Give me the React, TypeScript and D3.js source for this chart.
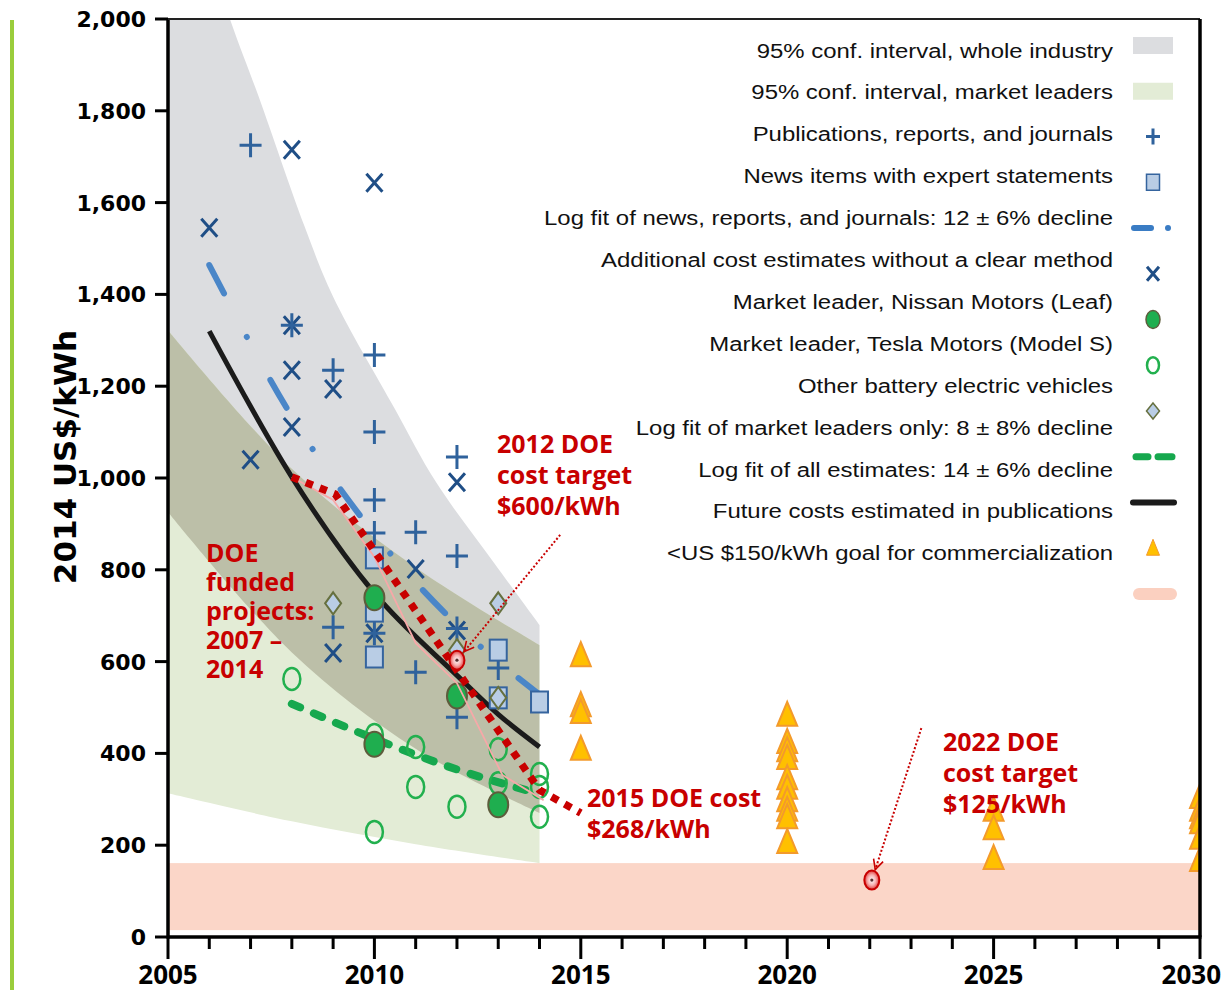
import { useRef, useEffect } from 'react';
import * as d3 from 'd3';

// ── data (year, US$/kWh) ────────────────────────────────────────────────────
const GRAY_UPPER = [[2005, 2420], [2006.5, 2000], [2007.2, 1830], [2008.3, 1550], [2009, 1395], [2010.5, 1150], [2011.5, 990], [2012.9, 815], [2014, 680]];
const GRAY_LOWER = [[2005, 926], [2008, 620], [2011, 410], [2014, 270]];
const GREEN_UPPER = [[2005, 1322], [2008, 1020], [2011, 805], [2014, 636]];
const GREEN_LOWER = [[2005, 313], [2008, 252], [2011, 202], [2014, 161]];
const GOAL_BAND = [15, 161];

const PUBLICATIONS = [[2007, 1725], [2008, 1333], [2009, 1235], [2009, 675], [2010, 1268], [2010, 1100], [2010, 952], [2010, 880], [2010, 662],
  [2011, 882], [2011, 577], [2012, 1046], [2012, 830], [2012, 672], [2012, 479], [2013, 586]];
const NEWS = [[2010, 826], [2010, 710], [2010, 610], [2013, 625], [2013, 521], [2014, 512]];
const ADDITIONAL = [[2006, 1545], [2008, 1715], [2010, 1643], [2007, 1040], [2008, 1333], [2008, 1235], [2008, 1111], [2009, 1194],
  [2009, 619], [2010, 662], [2011, 802], [2012, 991], [2012, 668]];
const NISSAN = [[2010, 739], [2010, 420], [2012, 525], [2013, 288]];
const TESLA = [[2008, 562], [2010, 440], [2010, 229], [2011, 414], [2011, 327], [2012, 284], [2013, 409], [2013, 335], [2014, 355], [2014, 327], [2014, 262]];
const OTHER_BEV = [[2009, 727], [2012, 625], [2013, 727], [2013, 521]];
const FUTURE = [
  [2015, 614], [2015, 505], [2015, 490], [2015, 410],
  [2020, 484], [2020, 425], [2020, 407], [2020, 390], [2020, 346], [2020, 325], [2020, 298], [2020, 277], [2020, 261], [2020, 207],
  [2025, 277], [2025, 237], [2025, 172],
  [2030, 305], [2030, 277], [2030, 261], [2030, 250], [2030, 216], [2030, 168],
];

const FIT_NEWS = [[2006, 1464], [2008, 1134], [2010, 878], [2012, 680], [2014, 528]];
const FIT_LEADERS = [[2008, 508], [2010, 432], [2012, 365], [2014, 312]];
const FIT_ALL = [[2006, 1320], [2008, 1002], [2010, 749], [2012, 570], [2013, 485], [2014, 414]];
const DOE_DOTTED = [[2008, 1002], [2009.05, 965], [2014, 320], [2015, 270]];
const DOE_THIN = [[2008, 1002], [2009, 952], [2010, 828], [2011, 640], [2012, 553], [2013.1, 353], [2014.1, 298]];
const DOE_TARGETS = [[2012, 603], [2022.05, 124]];
const ARROW_STARTS = [[2014.5, 876], [2023.25, 455]];

const Y_TICKS = d3.range(0, 2001, 200);
const X_MINOR = d3.range(2005, 2031, 1);
const X_LABELS = [2005, 2010, 2015, 2020, 2025, 2030];

const LEGEND = [
  '95% conf. interval, whole industry',
  '95% conf. interval, market leaders',
  'Publications, reports, and journals',
  'News items with expert statements',
  'Log fit of news, reports, and journals: 12 \u00b1 6% decline',
  'Additional cost estimates without a clear method',
  'Market leader, Nissan Motors (Leaf)',
  'Market leader, Tesla Motors (Model S)',
  'Other battery electric vehicles',
  'Log fit of market leaders only: 8 \u00b1 8% decline',
  'Log fit of all estimates: 14 \u00b1 6% decline',
  'Future costs estimated in publications',
  '<US $150/kWh goal for commercialization',
];

const RED = '#c80000';
const BOLD = '"Open Sans", sans-serif';

export default function App() {
  const ref = useRef(null);

  useEffect(() => {
    const svg = d3.select(ref.current);
    svg.selectAll('*').remove();

    const x = d3.scaleLinear().domain([2005, 2030]).range([168, 1200]);
    const y = d3.scaleLinear().domain([0, 2000]).range([937, 19]);
    const defs = svg.append('defs');

    defs.append('clipPath').attr('id', 'plot').append('rect')
      .attr('x', x(2005)).attr('y', y(2000)).attr('width', x(2030) - x(2005)).attr('height', y(0) - y(2000));

    const curve = d3.line().x(d => x(d[0])).y(d => y(d[1])).curve(d3.curveCatmullRom);
    const band = (up, lo) => curve(up) + 'L' + curve([...lo].reverse()).slice(1) + 'Z';
    const grayPath = band(GRAY_UPPER, GRAY_LOWER);
    const greenPath = band(GREEN_UPPER, GREEN_LOWER);
    defs.append('clipPath').attr('id', 'grayband').append('path').attr('d', grayPath);

    const grad = defs.append('radialGradient').attr('id', 'tgt');
    grad.append('stop').attr('offset', '0%').attr('stop-color', '#ffffff');
    grad.append('stop').attr('offset', '55%').attr('stop-color', '#f6b0b0');
    grad.append('stop').attr('offset', '100%').attr('stop-color', '#e03a3a');

    defs.append('marker').attr('id', 'arrow').attr('viewBox', '0 0 12 12').attr('refX', 11).attr('refY', 6)
      .attr('markerWidth', 12).attr('markerHeight', 12).attr('markerUnits', 'userSpaceOnUse').attr('orient', 'auto')
      .append('path').attr('d', 'M1,1L11,6L1,11').attr('fill', 'none').attr('stroke', RED).attr('stroke-width', 1.6);

    // decorative green bar at the far left
    svg.append('line').attr('x1', 12).attr('x2', 12).attr('y1', 20).attr('y2', 990)
      .attr('stroke', '#9acd3c').attr('stroke-width', 4);

    const plot = svg.append('g').attr('clip-path', 'url(#plot)');

    // ── bands ─────────────────────────────────────────────
    plot.append('rect').attr('x', x(2005)).attr('width', x(2030) - x(2005))
      .attr('y', y(GOAL_BAND[1])).attr('height', y(GOAL_BAND[0]) - y(GOAL_BAND[1])).attr('fill', '#fbd6c8');
    plot.append('path').attr('d', grayPath).attr('fill', '#dcdde0');
    plot.append('path').attr('d', greenPath).attr('fill', '#e3ecd6');
    plot.append('g').attr('clip-path', 'url(#grayband)')
      .append('path').attr('d', greenPath).attr('fill', '#bcbfa8');

    const line = d3.line().x(d => x(d[0])).y(d => y(d[1]));
    const smooth = d3.line().x(d => x(d[0])).y(d => y(d[1])).curve(d3.curveMonotoneX);

    // ── fits ─────────────────────────────────────────────
    plot.append('path').attr('d', smooth(FIT_ALL)).attr('fill', 'none')
      .attr('stroke', '#1b1b1b').attr('stroke-width', 5);
    plot.append('path').attr('d', smooth(FIT_LEADERS)).attr('fill', 'none')
      .attr('stroke', '#16a84e').attr('stroke-width', 8).attr('stroke-linecap', 'round').attr('stroke-dasharray', '9 15');
    plot.append('path').attr('d', smooth(FIT_NEWS)).attr('fill', 'none')
      .attr('stroke', '#4a86c8').attr('stroke-width', 6).attr('stroke-linecap', 'round').attr('stroke-dasharray', '32 49 0.1 49');

    // ── markers ───────────────────────────────────────────
    const at = d => `translate(${x(d[0])},${y(d[1])})`;
    const PLUS = 'M-11,0H11M0,-12V12';
    const CROSS = 'M-8,-9L8,9M-8,9L8,-9';
    const DIAMOND = 'M0,-11L8,0L0,11L-8,0Z';
    const TRI = 'M0,-13L10,11L-10,11Z';

    plot.append('g').selectAll('path').data(ADDITIONAL).join('path')
      .attr('d', CROSS).attr('transform', at).attr('fill', 'none').attr('stroke', '#1f4e86').attr('stroke-width', 3);
    plot.append('g').selectAll('path').data(PUBLICATIONS).join('path')
      .attr('d', PLUS).attr('transform', at).attr('fill', 'none').attr('stroke', '#2f629c').attr('stroke-width', 3);
    plot.append('g').selectAll('rect').data(NEWS).join('rect')
      .attr('x', -8.5).attr('y', -10.5).attr('width', 17).attr('height', 21).attr('transform', at)
      .attr('fill', '#b9cde5').attr('stroke', '#35649e').attr('stroke-width', 2);
    plot.append('g').selectAll('path').data(OTHER_BEV).join('path')
      .attr('d', DIAMOND).attr('transform', at).attr('fill', '#b9cde5').attr('stroke', '#66703f').attr('stroke-width', 2);
    plot.append('g').selectAll('ellipse').data(TESLA).join('ellipse')
      .attr('rx', 8.5).attr('ry', 11).attr('transform', at).attr('fill', 'none').attr('stroke', '#22b04e').attr('stroke-width', 2.5);
    plot.append('g').selectAll('ellipse').data(NISSAN).join('ellipse')
      .attr('rx', 10).attr('ry', 12.5).attr('transform', at).attr('fill', '#1fae4f').attr('stroke', '#5d5d3c').attr('stroke-width', 2);
    plot.append('g').selectAll('path').data(FUTURE).join('path')
      .attr('d', TRI).attr('transform', at).attr('fill', '#ffc000').attr('stroke', '#f39a2c').attr('stroke-width', 2);

    // ── DOE lines, targets and arrows ─────────────────────
    plot.append('path').attr('d', line(DOE_THIN)).attr('fill', 'none').attr('stroke', '#f7a8a8').attr('stroke-width', 1.8);
    plot.append('path').attr('d', line(DOE_DOTTED)).attr('fill', 'none')
      .attr('stroke', RED).attr('stroke-width', 7.5).attr('stroke-dasharray', '7.5 7.5');

    const tg = plot.append('g').selectAll('g').data(DOE_TARGETS).join('g').attr('transform', at);
    tg.append('ellipse').attr('rx', 7.5).attr('ry', 9.5).attr('fill', 'url(#tgt)').attr('stroke', RED).attr('stroke-width', 2);
    tg.append('circle').attr('r', 1.6).attr('fill', '#5a3030');

    ARROW_STARTS.forEach((from, i) => {
      const to = DOE_TARGETS[i];
      const off = 11;
      const x1 = x(from[0]), y1 = y(from[1]), x2 = x(to[0]), y2 = y(to[1]);
      const len = Math.hypot(x2 - x1, y2 - y1);
      const ex = x2 - (x2 - x1) / len * off, ey = y2 - (y2 - y1) / len * off;
      svg.append('line').attr('x1', x1).attr('y1', y1).attr('x2', ex).attr('y2', ey)
        .attr('stroke', RED).attr('stroke-width', 2).attr('stroke-dasharray', '2 2').attr('marker-end', 'url(#arrow)');
    });

    // ── annotations ───────────────────────────────────────
    const note = (lines, x0, y0, dy) => {
      const t = svg.append('text').attr('font-family', BOLD).attr('font-weight', 700).attr('font-size', 25).attr('fill', RED);
      lines.forEach((s, i) => t.append('tspan').attr('x', x0).attr('y', y0 + i * dy).text(s));
    };
    note(['2012 DOE', 'cost target', '$600/kWh'], 497, 453, 31);
    note(['DOE', 'funded', 'projects:', '2007 \u2013', '2014'], 206, 562, 29);
    note(['2015 DOE cost', '$268/kWh'], 587, 807, 31);
    note(['2022 DOE', 'cost target', '$125/kWh'], 943, 751, 31);

    // ── axes ──────────────────────────────────────────────
    const ax = svg.append('g');
    ax.selectAll('line.yt').data(Y_TICKS).join('line').attr('class', 'yt')
      .attr('x1', x(2005) - 13).attr('x2', x(2005)).attr('y1', d => y(d)).attr('y2', d => y(d))
      .attr('stroke', '#000').attr('stroke-width', 3);
    ax.selectAll('text.yl').data(Y_TICKS).join('text').attr('class', 'yl')
      .attr('x', x(2005) - 22).attr('y', d => y(d) + 8).attr('text-anchor', 'end')
      .attr('font-family', '"DejaVu Sans", sans-serif').attr('font-weight', 700).attr('font-size', 22)
      .text(d => d3.format(',')(d));
    ax.selectAll('line.xt').data(X_MINOR).join('line').attr('class', 'xt')
      .attr('x1', d => x(d)).attr('x2', d => x(d)).attr('y1', y(0))
      .attr('y2', d => y(0) + (d % 5 === 0 ? 22 : 12))
      .attr('stroke', '#000').attr('stroke-width', 3);
    ax.selectAll('text.xl').data(X_LABELS).join('text').attr('class', 'xl')
      .attr('x', d => (d === 2030 ? 1221 : x(d))).attr('y', 984)
      .attr('text-anchor', d => (d === 2030 ? 'end' : 'middle'))
      .attr('font-family', BOLD).attr('font-weight', 700).attr('font-size', 26)
      .text(d => d);
    ax.append('line').attr('x1', x(2005)).attr('x2', x(2005)).attr('y1', y(2000) - 1).attr('y2', y(0) + 1.5)
      .attr('stroke', '#000').attr('stroke-width', 3.5);
    ax.append('line').attr('x1', x(2005)).attr('x2', x(2030) + 1.5).attr('y1', y(0)).attr('y2', y(0))
      .attr('stroke', '#000').attr('stroke-width', 3.5);
    ax.append('line').attr('x1', x(2005)).attr('x2', x(2030)).attr('y1', y(2000)).attr('y2', y(2000))
      .attr('stroke', '#222').attr('stroke-width', 2);
    ax.append('line').attr('x1', x(2030)).attr('x2', x(2030)).attr('y1', y(2000)).attr('y2', y(0))
      .attr('stroke', '#000').attr('stroke-width', 3.5);

    svg.append('text').attr('transform', `translate(76,${457}) rotate(-90)`).attr('text-anchor', 'middle')
      .attr('font-family', '"DejaVu Sans", sans-serif').attr('font-weight', 700).attr('font-size', 31)
      .text('2014 US$/kWh');

    // ── legend ────────────────────────────────────────────
    const lg = svg.append('g');
    LEGEND.forEach((label, i) => {
      const ty = 50 + i * 41.9 + 7.5;
      lg.append('text').attr('transform', `translate(1113,${ty}) scale(1.14,1)`).attr('text-anchor', 'end')
        .attr('font-family', '"Liberation Sans", Arial, sans-serif').attr('font-size', 21).attr('fill', '#111')
        .text(label);
    });
    const iy = i => 45 + i * 45.75;
    const cx = 1153;
    lg.append('rect').attr('x', 1133).attr('y', iy(0) - 8).attr('width', 40).attr('height', 17).attr('fill', '#dcdde0');
    lg.append('rect').attr('x', 1133).attr('y', iy(1) - 8).attr('width', 40).attr('height', 17).attr('fill', '#e3ecd6');
    lg.append('path').attr('d', 'M-7,0H7M0,-8V8').attr('transform', `translate(${cx},${iy(2)})`)
      .attr('stroke', '#2f629c').attr('stroke-width', 3);
    lg.append('rect').attr('x', cx - 6.5).attr('y', iy(3) - 8).attr('width', 13).attr('height', 16)
      .attr('fill', '#b9cde5').attr('stroke', '#35649e').attr('stroke-width', 1.5);
    lg.append('line').attr('x1', 1134).attr('x2', 1151).attr('y1', iy(4)).attr('y2', iy(4))
      .attr('stroke', '#3a7cc4').attr('stroke-width', 6).attr('stroke-linecap', 'round');
    lg.append('circle').attr('cx', 1168).attr('cy', iy(4)).attr('r', 3).attr('fill', '#3a7cc4');
    lg.append('path').attr('d', 'M-6,-7L6,7M-6,7L6,-7').attr('transform', `translate(${cx},${iy(5)})`)
      .attr('stroke', '#1f4e86').attr('stroke-width', 3);
    lg.append('ellipse').attr('cx', cx).attr('cy', iy(6)).attr('rx', 7).attr('ry', 9)
      .attr('fill', '#1fae4f').attr('stroke', '#5d5d3c').attr('stroke-width', 1.5);
    lg.append('ellipse').attr('cx', cx).attr('cy', iy(7)).attr('rx', 6).attr('ry', 8)
      .attr('fill', 'none').attr('stroke', '#22b04e').attr('stroke-width', 2.5);
    lg.append('path').attr('d', 'M0,-8L6.5,0L0,8L-6.5,0Z').attr('transform', `translate(${cx},${iy(8)})`)
      .attr('fill', '#b9cde5').attr('stroke', '#66703f').attr('stroke-width', 1.5);
    lg.append('line').attr('x1', 1136).attr('x2', 1148).attr('y1', iy(9)).attr('y2', iy(9))
      .attr('stroke', '#16a84e').attr('stroke-width', 7).attr('stroke-linecap', 'round');
    lg.append('line').attr('x1', 1158).attr('x2', 1172).attr('y1', iy(9)).attr('y2', iy(9))
      .attr('stroke', '#16a84e').attr('stroke-width', 7).attr('stroke-linecap', 'round');
    lg.append('line').attr('x1', 1133).attr('x2', 1174).attr('y1', iy(10)).attr('y2', iy(10))
      .attr('stroke', '#1b1b1b').attr('stroke-width', 6).attr('stroke-linecap', 'round');
    lg.append('path').attr('d', 'M0,-9L6.5,7L-6.5,7Z').attr('transform', `translate(${cx},${iy(11)})`)
      .attr('fill', '#ffc000').attr('stroke', '#f39a2c').attr('stroke-width', 1);
    lg.append('line').attr('x1', 1139).attr('x2', 1171).attr('y1', iy(12)).attr('y2', iy(12))
      .attr('stroke', '#fbd0c0').attr('stroke-width', 12).attr('stroke-linecap', 'round');
  }, []);

  return (
    <div style={{ position: 'absolute', left: 0, top: 0 }}>
      <svg ref={ref} width={1221} height={994} style={{ display: 'block', background: '#fff' }} />
    </div>
  );
}
